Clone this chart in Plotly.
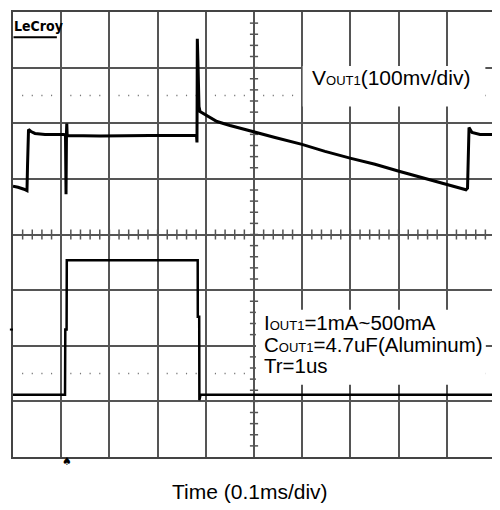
import numpy as np
import plotly.graph_objects as go

# ---- data (time in ms, 0.1 ms/div; vertical position in screen divisions, 0..8 from bottom)
vout_t = [0.000, 0.0104, 0.0228, 0.0290, 0.0301, 0.0322, 0.0373, 0.0456, 0.0664, 0.1058,
          0.1089, 0.1100, 0.1110, 0.1116, 0.1124, 0.1805, 0.2842, 0.3807, 0.3817, 0.3824,
          0.3838, 0.3859, 0.3880, 0.4046, 0.4232, 0.4502, 0.4917, 0.5436, 0.5996, 0.6473,
          0.7012, 0.7510, 0.8008, 0.8548, 0.9004, 0.9274, 0.9398, 0.9430, 0.9440, 0.9461,
          0.9523, 0.9689, 1.000]
vout_y = [4.868, 4.850, 4.814, 4.788, 5.226, 5.888, 5.852, 5.817, 5.799, 5.799,
          5.781, 4.725, 5.852, 5.996, 5.781, 5.772, 5.781, 5.781, 5.655, 7.517,
          7.069, 6.300, 6.210, 6.121, 6.031, 5.960, 5.861, 5.745, 5.620, 5.494,
          5.369, 5.262, 5.137, 5.011, 4.904, 4.832, 4.805, 4.832, 5.494, 5.924,
          5.835, 5.799, 5.799]

iout_t = [0.000, 0.1079, 0.1085, 0.1112, 0.1116, 0.2220, 0.3832, 0.3834, 0.3863, 0.3867,
          0.3890, 1.000]
iout_y = [1.119, 1.119, 2.291, 2.291, 3.535, 3.535, 3.535, 2.523, 2.523, 1.020,
          1.119, 1.119]

trigger_t = 0.111

label_vout = "V<span style='font-size:13px'>OUT1</span>(100mv/div)"
label_lines = ["I<span style='font-size:13px'>OUT1</span>=1mA~500mA",
               "C<span style='font-size:13px'>OUT1</span>=4.7uF(Aluminum)",
               "Tr=1us"]
label_time = "Time (0.1ms/div)"

GRID = "#555555"
FONT = "Liberation Sans, Arial, sans-serif"

fig = go.Figure()
fig.add_trace(go.Scatter(x=vout_t, y=vout_y, mode="lines",
                         line=dict(color="black", width=3), hoverinfo="skip"))
fig.add_trace(go.Scatter(x=iout_t, y=iout_y, mode="lines",
                         line=dict(color="black", width=2.5), hoverinfo="skip"))

shapes = []
# centre-line ticks
for k in range(1, 40):
    y = k * 0.2
    shapes.append(dict(type="line", xref="x", yref="y", x0=0.5 - 0.0085, x1=0.5 + 0.0085,
                       y0=y, y1=y, line=dict(color=GRID, width=1.5), layer="between"))
for k in range(1, 50):
    t = k * 0.02
    shapes.append(dict(type="line", xref="x", yref="y", x0=t, x1=t,
                       y0=4 - 0.09, y1=4 + 0.09, line=dict(color=GRID, width=1.5), layer="between"))
# dotted reference lines
for yy in (6.5, 1.5):
    for k in range(1, 50):
        if k % 5 == 0:
            continue
        t = k * 0.02
        shapes.append(dict(type="line", xref="x", yref="y", x0=t - 0.0012, x1=t + 0.0012,
                           y0=yy, y1=yy, line=dict(color="#777777", width=1.5), layer="between"))
# white label boxes
shapes.append(dict(type="rect", xref="x", yref="y", x0=0.601, x1=0.980, y0=6.30, y1=7.03,
                   fillcolor="white", line=dict(width=0), layer="between"))
shapes.append(dict(type="rect", xref="x", yref="y", x0=0.504, x1=0.981, y0=1.298, y1=2.645,
                   fillcolor="white", line=dict(width=0), layer="between"))
# LeCroy underline
shapes.append(dict(type="line", xref="paper", yref="paper", x0=0.001, x1=0.091,
                   y0=0.943, y1=0.943, line=dict(color="black", width=2)))
# level markers
shapes.append(dict(type="line", xref="paper", yref="paper", x0=1.0, x1=1.011,
                   y0=0.2864, y1=0.2864, line=dict(color="black", width=2)))
shapes.append(dict(type="line", xref="paper", yref="paper", x0=-0.0065, x1=0.0,
                   y0=0.2864, y1=0.2864, line=dict(color="black", width=2)))

annotations = [
    dict(text=label_vout, x=0.6162, y=6.828, xref="x", yref="y", xanchor="left",
         yanchor="middle", showarrow=False, font=dict(family=FONT, size=21, color="black")),
    dict(text=label_time, x=0.4917, y=-0.078, xref="paper", yref="paper", xanchor="center",
         yanchor="middle", showarrow=False, font=dict(family=FONT, size=21, color="black")),
    dict(text="<b>LeCroy</b>", x=-0.002, y=0.9676, xref="paper", yref="paper", xanchor="left",
         yanchor="middle", showarrow=False,
         font=dict(family="Liberation Sans Narrow, DejaVu Sans Condensed, Liberation Sans",
                   size=14, color="black")),
    dict(text="2", x=1.002, y=0.725, xref="paper", yref="paper", xanchor="left",
         yanchor="middle", showarrow=False, font=dict(family=FONT, size=14, color="black")),
    dict(text="1", x=1.002, y=0.163, xref="paper", yref="paper", xanchor="left",
         yanchor="middle", showarrow=False, font=dict(family=FONT, size=14, color="black")),
    dict(text="\u2660", x=trigger_t, y=-0.011, xref="x", yref="paper", xanchor="center",
         yanchor="middle", showarrow=False, borderpad=0,
         font=dict(family="DejaVu Sans", size=11, color="black")),
]
for txt, yy in zip(label_lines, [2.416, 2.022, 1.647]):
    annotations.append(dict(text=txt, x=0.5166, y=yy, xref="x", yref="y", xanchor="left",
                            yanchor="middle", showarrow=False,
                            font=dict(family=FONT, size=20.5, color="black")))

fig.update_layout(
    width=500, height=510,
    margin=dict(l=5, r=13, t=2, b=61),
    paper_bgcolor="white", plot_bgcolor="white",
    showlegend=False,
    shapes=shapes, annotations=annotations,
    xaxis=dict(range=[0, 1], tick0=0, dtick=0.1, showgrid=True, gridcolor=GRID, gridwidth=1.7,
               zeroline=False, showticklabels=False, ticks="", showline=True, mirror=True,
               linecolor="#444444", linewidth=2, fixedrange=True),
    yaxis=dict(range=[0, 8], tick0=0, dtick=1, showgrid=True, gridcolor=GRID, gridwidth=1.7,
               zeroline=False, showticklabels=False, ticks="", showline=True, mirror=True,
               linecolor="#444444", linewidth=2, fixedrange=True),
)

fig.write_html("out.html")
